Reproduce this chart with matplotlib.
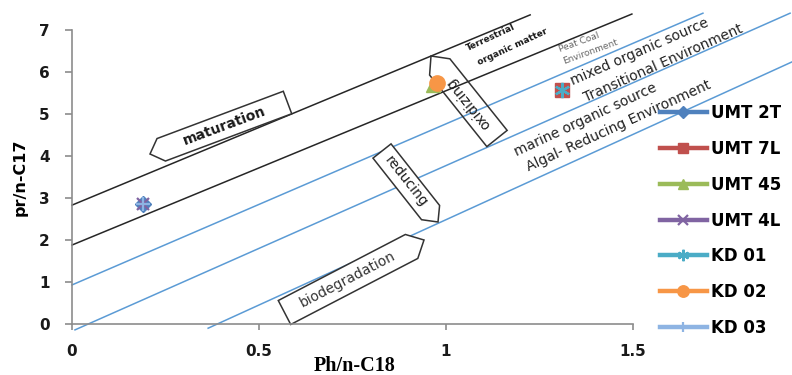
import matplotlib
matplotlib.use("Agg")
import matplotlib.pyplot as plt
import matplotlib.transforms as mtransforms
from matplotlib.patches import Polygon
import numpy as np

# Pristane / phytane ratios per sample
series = ["UMT 2T", "UMT 7L", "UMT 45", "UMT 4L", "KD 01", "KD 02", "KD 03"]
ph_c18 = [0.19, 1.31, 0.965, 0.19, 1.31, 0.975, 0.19]
pr_c17 = [2.86, 5.57, 5.70, 2.86, 5.57, 5.74, 2.86]

series_colors = ["#4F81BD", "#C0504D", "#9BBB59", "#8064A2", "#4BACC6", "#F79646", "#8EB4E3"]
series_markers = ["D", "s", "^", "x", (6, 2, 0), "o", "+"]
series_msize = [8, 10, 10, 9, 11, 11, 10]

# Environment boundary lines, (x0, y0) -> (x1, y1) in data units
bound_x0 = [0.0, 0.0, 0.0, 0.008, 0.364]
bound_y0 = [2.83, 1.88, 0.93, -0.14, -0.10]
bound_x1 = [1.225, 1.497, 1.687, 1.92, 1.925]
bound_y1 = [7.36, 7.38, 7.40, 7.40, 6.24]
bound_colors = ["#262626", "#262626", "#5B9BD5", "#5B9BD5", "#5B9BD5"]

x_ticks = [0, 0.5, 1, 1.5]
x_tick_labels = ["0", "0.5", "1", "1.5"]
y_ticks = [0, 1, 2, 3, 4, 5, 6, 7]

W, H = 792, 375
fig = plt.figure(figsize=(W / 100, H / 100), dpi=100)
ax = fig.add_axes([72 / W, (H - 324) / H, (633 - 72) / W, (324 - 30) / H])

# pixel coordinates, origin top-left, for the drawn shapes and notes
px = mtransforms.Affine2D().scale(1 / W, -1 / H).translate(0, 1) + fig.transFigure

for x0, y0, x1, y1, c in zip(bound_x0, bound_y0, bound_x1, bound_y1, bound_colors):
    ax.plot([x0, x1], [y0, y1], color=c, lw=1.1, clip_on=False, zorder=1)

handles = []
for name, x, y, c, m, ms in zip(series, ph_c18, pr_c17, series_colors,
                                series_markers, series_msize):
    mew = 1.6 if m in ("x", "+") or isinstance(m, tuple) else 1.0
    (h,) = ax.plot([x], [y], marker=m, color=c, ms=ms, mew=mew, lw=3.2,
                   label=name, clip_on=False, zorder=4)
    handles.append(h)

ax.set_xlim(0, 1.5)
ax.set_ylim(0, 7)
ax.set_xticks(x_ticks)
ax.set_xticklabels(x_tick_labels)
ax.set_yticks(y_ticks)
for side in ("top", "right"):
    ax.spines[side].set_visible(False)
for side in ("left", "bottom"):
    ax.spines[side].set_color("#8C8C8C")
    ax.spines[side].set_linewidth(1.2)
ax.tick_params(axis="y", length=5, width=1.2, color="#8C8C8C", pad=11,
               labelsize=11)
ax.tick_params(axis="x", length=4.5, width=1.2, color="#8C8C8C", pad=10,
               labelsize=11)
for lab in ax.get_xticklabels() + ax.get_yticklabels():
    lab.set_fontweight("bold")
    lab.set_color("#1a1a1a")

fig.text(355 / W, 1 - 366 / H, "Ph/n-C18", family="Liberation Serif",
         weight="bold", fontsize=14.5, ha="center", va="center")
fig.text(20 / W, 1 - 177 / H, "pr/n-C17", weight="bold", fontsize=11.5,
         rotation=90, ha="center", va="center")


def arrow_box(tail, tip, width, head, label, fill=True, flip=False, **kw):
    tail = np.asarray(tail, float)
    tip = np.asarray(tip, float)
    d = tip - tail
    length = np.hypot(*d)
    u = d / length
    n = np.array([-u[1], u[0]])
    base = tip - u * head
    hw = width / 2
    verts = [tail + n * hw, base + n * hw, tip, base - n * hw, tail - n * hw]
    ax.add_patch(Polygon(verts, closed=True, transform=px, clip_on=False,
                         facecolor="white" if fill else "none",
                         edgecolor="#333333", lw=1.1, zorder=2))
    mid = tail + u * (length - head) / 2
    ang = np.degrees(np.arctan2(-u[1], u[0]))
    if flip:
        ang += 180
    ax.text(mid[0], mid[1], label, transform=px, rotation=ang,
            rotation_mode="anchor", ha="center", va="center", clip_on=False,
            zorder=3, **kw)


arrow_box((287.5, 102.5), (150, 154), 24, 12, "maturation", flip=True,
          fontsize=10, weight="bold", color="#1a1a1a")
arrow_box((497, 138.5), (431, 56), 26, 14, "oxidizing", fill=False,
          fontsize=10, color="#1a1a1a")
arrow_box((382, 151), (438, 222), 23, 12, "reducing", fontsize=10,
          color="#1a1a1a")
arrow_box((284.5, 312.5), (424, 240), 27, 14, "biodegradation",
          fontsize=10, color="#333333")

notes = [
    ("Terrestrial", 491, 38, 25, 6.5, "bold", "#1a1a1a"),
    ("organic matter", 513, 47, 25, 6.5, "bold", "#1a1a1a"),
    ("Peat Coal", 579, 42, 20, 6.5, "normal", "#666666"),
    ("Environment", 590, 52, 20, 6.5, "normal", "#666666"),
    ("mixed organic source", 640, 52, 23.5, 10, "normal", "#222222"),
    ("Transitional Environment", 663, 63, 24, 10, "normal", "#222222"),
    ("marine organic source", 586, 120, 25, 10, "normal", "#222222"),
    ("Algal- Reducing Environment", 619, 126, 24.5, 10, "normal", "#222222"),
]
for txt, x, y, rot, fs, wt, col in notes:
    ax.text(x, y, txt, transform=px, rotation=rot, rotation_mode="anchor",
            ha="center", va="center", fontsize=fs, weight=wt, color=col,
            clip_on=False, zorder=3)

fig.legend(handles=handles, loc="upper left",
           bbox_to_anchor=(660 / W, 1 - 104 / H), frameon=False,
           borderpad=0, borderaxespad=0, handlelength=2.8,
           handletextpad=0.25, labelspacing=1.07, markerscale=0.75,
           prop={"weight": "bold", "size": 12})

fig.savefig("out.png", dpi=100)
